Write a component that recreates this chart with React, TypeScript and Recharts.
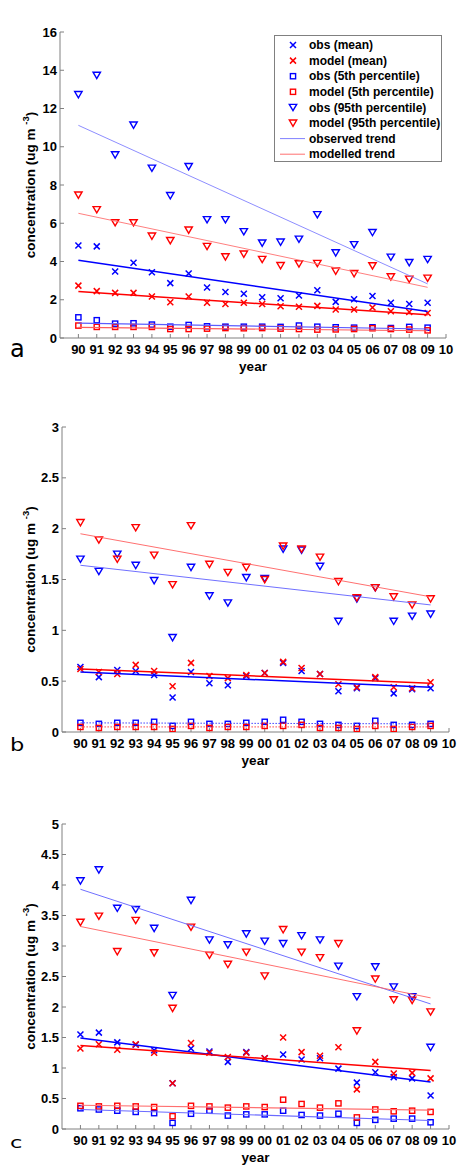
import React from 'react';
import { ScatterChart, Scatter, XAxis, YAxis, Legend } from 'recharts';

// ---------- shared categories ----------
const years = [1990, 1991, 1992, 1993, 1994, 1995, 1996, 1997, 1998, 1999, 2000, 2001, 2002, 2003, 2004, 2005, 2006, 2007, 2008, 2009];
const xTicks = [1990, 1991, 1992, 1993, 1994, 1995, 1996, 1997, 1998, 1999, 2000, 2001, 2002, 2003, 2004, 2005, 2006, 2007, 2008, 2009, 2010];
const trendYears = [1990, 2009];
const legendNames = ['obs (mean)', 'model (mean)', 'obs (5th percentile)', 'model (5th percentile)', 'obs (95th percentile)', 'model (95th percentile)', 'observed trend', 'modelled trend'];

// ---------- SO4 ----------
const so4Ticks = [0, 2, 4, 6, 8, 10, 12, 14, 16];
const so4ObsMean = [4.84, 4.79, 3.48, 3.93, 3.44, 2.87, 3.37, 2.64, 2.41, 2.31, 2.13, 2.08, 2.22, 2.5, 1.89, 2.03, 2.2, 1.84, 1.78, 1.84];
const so4ModelMean = [2.74, 2.45, 2.36, 2.36, 2.17, 1.87, 2.17, 1.84, 1.78, 1.84, 1.78, 1.66, 1.63, 1.68, 1.49, 1.49, 1.59, 1.4, 1.36, 1.31];
const so4Obs5 = [1.08, 0.93, 0.75, 0.77, 0.7, 0.59, 0.68, 0.61, 0.59, 0.59, 0.59, 0.58, 0.65, 0.59, 0.56, 0.54, 0.56, 0.52, 0.58, 0.54];
const so4Model5 = [0.65, 0.58, 0.58, 0.58, 0.58, 0.47, 0.47, 0.49, 0.52, 0.51, 0.52, 0.49, 0.47, 0.44, 0.45, 0.47, 0.51, 0.47, 0.44, 0.4];
const so4Obs95 = [12.73, 13.74, 9.58, 11.14, 8.88, 7.45, 8.97, 6.19, 6.19, 5.56, 4.97, 5.02, 5.17, 6.45, 4.46, 4.88, 5.52, 4.23, 3.95, 4.11];
const so4Model95 = [7.48, 6.71, 6.03, 6.03, 5.33, 5.1, 5.65, 4.79, 4.25, 4.39, 4.11, 3.79, 3.88, 3.9, 3.5, 3.37, 3.78, 3.2, 3.08, 3.13];
const so4ObsMeanTrend = [4.07, 1.38];
const so4ModelMeanTrend = [2.43, 1.21];
const so4Obs5Trend = [0.78, 0.47];
const so4Model5Trend = [0.56, 0.38];
const so4Obs95Trend = [11.12, 2.83];
const so4Model95Trend = [6.52, 2.65];

// ---------- TNO3 ----------
const tno3Ticks = [0, 0.5, 1, 1.5, 2, 2.5, 3];
const tno3ObsMean = [0.64, 0.54, 0.61, 0.6, 0.56, 0.34, 0.59, 0.48, 0.46, 0.55, 0.58, 0.68, 0.6, 0.57, 0.4, 0.43, 0.53, 0.38, 0.42, 0.43];
const tno3ModelMean = [0.62, 0.59, 0.57, 0.66, 0.6, 0.45, 0.68, 0.55, 0.53, 0.56, 0.58, 0.69, 0.63, 0.57, 0.47, 0.44, 0.54, 0.44, 0.43, 0.49];
const tno3Obs5 = [0.09, 0.08, 0.09, 0.09, 0.1, 0.06, 0.1, 0.08, 0.08, 0.09, 0.1, 0.12, 0.1, 0.08, 0.07, 0.06, 0.11, 0.07, 0.07, 0.08];
const tno3Model5 = [0.05, 0.04, 0.05, 0.05, 0.05, 0.03, 0.06, 0.04, 0.05, 0.05, 0.06, 0.06, 0.07, 0.04, 0.04, 0.03, 0.06, 0.03, 0.05, 0.06];
const tno3Obs95 = [1.7, 1.58, 1.75, 1.64, 1.49, 0.93, 1.62, 1.34, 1.27, 1.52, 1.51, 1.8, 1.79, 1.63, 1.09, 1.31, 1.42, 1.09, 1.14, 1.16];
const tno3Model95 = [2.06, 1.89, 1.7, 2.01, 1.74, 1.45, 2.03, 1.65, 1.57, 1.62, 1.5, 1.83, 1.8, 1.72, 1.48, 1.32, 1.42, 1.33, 1.25, 1.31];
const tno3ObsMeanTrend = [0.59, 0.44];
const tno3ModelMeanTrend = [0.62, 0.48];
const tno3Obs5Trend = [0.09, 0.08];
const tno3Model5Trend = [0.05, 0.05];
const tno3Obs95Trend = [1.64, 1.25];
const tno3Model95Trend = [1.95, 1.33];

// ---------- TNH4 ----------
const tnh4Ticks = [0, 0.5, 1, 1.5, 2, 2.5, 3, 3.5, 4, 4.5, 5];
const tnh4ObsMean = [1.55, 1.58, 1.42, 1.38, 1.29, 0.75, 1.32, 1.27, 1.1, 1.26, 1.16, 1.22, 1.14, 1.16, 0.99, 0.76, 0.93, 0.85, 0.83, 0.55];
const tnh4ModelMean = [1.32, 1.39, 1.3, 1.39, 1.25, 0.75, 1.41, 1.25, 1.18, 1.25, 1.16, 1.5, 1.26, 1.2, 1.34, 0.65, 1.1, 0.91, 0.92, 0.83];
const tnh4Obs5 = [0.34, 0.32, 0.3, 0.28, 0.26, 0.1, 0.25, 0.3, 0.22, 0.24, 0.24, 0.3, 0.23, 0.22, 0.25, 0.1, 0.15, 0.17, 0.17, 0.11];
const tnh4Model5 = [0.38, 0.37, 0.38, 0.37, 0.36, 0.21, 0.38, 0.37, 0.35, 0.37, 0.36, 0.48, 0.41, 0.35, 0.42, 0.19, 0.32, 0.29, 0.3, 0.28];
const tnh4Obs95 = [4.07, 4.25, 3.62, 3.6, 3.29, 2.19, 3.75, 3.1, 3.02, 3.2, 3.08, 3.04, 3.17, 3.1, 2.67, 2.17, 2.66, 2.33, 2.17, 1.34];
const tnh4Model95 = [3.39, 3.49, 2.91, 3.42, 2.89, 1.98, 3.31, 2.85, 2.7, 2.9, 2.51, 3.27, 2.9, 2.81, 3.04, 1.61, 2.46, 2.12, 2.11, 1.92];
const tnh4ObsMeanTrend = [1.49, 0.77];
const tnh4ModelMeanTrend = [1.37, 0.96];
const tnh4Obs5Trend = [0.32, 0.14];
const tnh4Model5Trend = [0.39, 0.31];
const tnh4Obs95Trend = [3.93, 2.05];
const tnh4Model95Trend = [3.32, 2.15];

// ---------- styles ----------
const BLUE = '#0000ff';
const RED = '#ff0000';
const AXIS = '#808080';
const FONT = '"Liberation Sans", Arial, Helvetica, sans-serif';
const W = 459;

type Marker = 'x' | 'sq' | 'tri';

const markerEl = (kind: Marker, color: string, cx: number, cy: number, key?: string) => {
  if (kind === 'x') {
    return (
      <path key={key} d={`M${cx - 3},${cy - 3}L${cx + 3},${cy + 3}M${cx - 3},${cy + 3}L${cx + 3},${cy - 3}`} stroke={color} strokeWidth={1.5} fill="none" />
    );
  }
  if (kind === 'sq') {
    return <rect key={key} x={cx - 2.6} y={cy - 2.6} width={5.2} height={5.2} stroke={color} strokeWidth={1.4} fill="none" />;
  }
  return (
    <path key={key} d={`M${cx - 3.7},${cy - 3}L${cx + 3.7},${cy - 3}L${cx},${cy + 3.3}Z`} stroke={color} strokeWidth={1.4} fill="none" strokeLinejoin="miter" />
  );
};

const shapeFor = (kind: Marker, color: string) => (p: any) => markerEl(kind, color, p.cx, p.cy);
const noShape = () => <g />;

const pts = (vals: number[]) => vals.map((v, i) => ({ x: years[i], y: v }));
const tpts = (vals: number[]) => vals.map((v, i) => ({ x: trendYears[i], y: v }));
const fmtYear = (v: number) => String(v % 100).padStart(2, '0');

interface Series { values: number[]; color: string; marker: Marker }
interface Trend { values: number[]; stroke: string; width: number; dash?: string }
interface Panel {
  title: string; letter: string; letterSize: number; letterScale: number;
  top: number; height: number; plotLeft: number; plotRight: number; plotTop: number; plotBottom: number;
  yTicks: number[]; series: Series[]; trends: Trend[]; legend: boolean;
}

const mkSeries = (om: number[], mm: number[], o5: number[], m5: number[], o95: number[], m95: number[]): Series[] => [
  { values: om, color: BLUE, marker: 'x' },
  { values: mm, color: RED, marker: 'x' },
  { values: o5, color: BLUE, marker: 'sq' },
  { values: m5, color: RED, marker: 'sq' },
  { values: o95, color: BLUE, marker: 'tri' },
  { values: m95, color: RED, marker: 'tri' },
];

const panels: Panel[] = [
  {
    title: 'SO4', letter: 'a', letterSize: 24, letterScale: 1,
    top: 0, height: 385, plotLeft: 60, plotRight: 446, plotTop: 32, plotBottom: 338,
    yTicks: so4Ticks, legend: true,
    series: mkSeries(so4ObsMean, so4ModelMean, so4Obs5, so4Model5, so4Obs95, so4Model95),
    trends: [
      { values: so4Obs5Trend, stroke: '#5c5cff', width: 1.2 },
      { values: so4Model5Trend, stroke: '#ff5c5c', width: 1.2 },
      { values: so4ObsMeanTrend, stroke: BLUE, width: 1.5 },
      { values: so4ModelMeanTrend, stroke: RED, width: 1.5 },
      { values: so4Obs95Trend, stroke: '#8080ff', width: 0.9 },
      { values: so4Model95Trend, stroke: '#ff7070', width: 0.9 },
    ],
  },
  {
    title: 'TNO3', letter: 'b', letterSize: 18, letterScale: 1.25,
    top: 385, height: 390, plotLeft: 62, plotRight: 449, plotTop: 427, plotBottom: 732,
    yTicks: tno3Ticks, legend: false,
    series: mkSeries(tno3ObsMean, tno3ModelMean, tno3Obs5, tno3Model5, tno3Obs95, tno3Model95),
    trends: [
      { values: tno3Obs5Trend, stroke: '#4040ff', width: 1, dash: '1.5 1.5' },
      { values: tno3Model5Trend, stroke: '#ff4040', width: 1, dash: '1.5 1.5' },
      { values: tno3ObsMeanTrend, stroke: BLUE, width: 1.5 },
      { values: tno3ModelMeanTrend, stroke: RED, width: 1.5 },
      { values: tno3Obs95Trend, stroke: '#6060ff', width: 0.9 },
      { values: tno3Model95Trend, stroke: '#ff6060', width: 0.9 },
    ],
  },
  {
    title: 'TNH4', letter: 'c', letterSize: 15.5, letterScale: 1.45,
    top: 780, height: 385, plotLeft: 62, plotRight: 449, plotTop: 824, plotBottom: 1129,
    yTicks: tnh4Ticks, legend: false,
    series: mkSeries(tnh4ObsMean, tnh4ModelMean, tnh4Obs5, tnh4Model5, tnh4Obs95, tnh4Model95),
    trends: [
      { values: tnh4Obs5Trend, stroke: '#6a6aff', width: 1.1 },
      { values: tnh4Model5Trend, stroke: '#ff7070', width: 1.1 },
      { values: tnh4ObsMeanTrend, stroke: BLUE, width: 1.5 },
      { values: tnh4ModelMeanTrend, stroke: RED, width: 1.5 },
      { values: tnh4Obs95Trend, stroke: '#6060ff', width: 0.9 },
      { values: tnh4Model95Trend, stroke: '#ff6060', width: 0.9 },
    ],
  },
];

const legendMarkers: { kind: Marker | 'line'; color: string }[] = [
  { kind: 'x', color: BLUE },
  { kind: 'x', color: RED },
  { kind: 'sq', color: BLUE },
  { kind: 'sq', color: RED },
  { kind: 'tri', color: BLUE },
  { kind: 'tri', color: RED },
  { kind: 'line', color: '#8080ff' },
  { kind: 'line', color: '#ff7070' },
];

const LegendBox = () => {
  const rowH = 15.6;
  const w = 168;
  const h = 127;
  return (
    <svg width={w} height={h} style={{ display: 'block', background: '#fff' }}>
      <rect x={0.5} y={0.5} width={w - 1} height={h - 1} fill="#fff" stroke={AXIS} strokeWidth={1} />
      {legendNames.map((name, i) => {
        const cy = 10 + i * rowH;
        const m = legendMarkers[i];
        return (
          <g key={name}>
            {m.kind === 'line'
              ? <line x1={6} x2={31} y1={cy} y2={cy} stroke={m.color} strokeWidth={1} />
              : markerEl(m.kind, m.color, 19, cy)}
            <text x={35} y={cy + 4.2} fontFamily={FONT} fontWeight="bold" fontSize={12} fill="#000">{name}</text>
          </g>
        );
      })}
    </svg>
  );
};

const ChartPanel = ({ p }: { p: Panel }) => {
  const xAxisH = 30;
  const localBottom = p.plotBottom - p.top;
  const margin = { top: p.plotTop - p.top, right: W - p.plotRight, bottom: p.height - localBottom - xAxisH, left: 0 };
  const yMax = p.yTicks[p.yTicks.length - 1];
  const cx = (p.plotLeft + p.plotRight) / 2;
  const cyPlot = (p.plotTop + p.plotBottom) / 2 - p.top;
  const tickStyle = { fill: '#000', fontSize: 13, fontWeight: 'bold', fontFamily: FONT };

  const bottomLabel = () => (
    <g>
      <text x={cx} y={localBottom + 33} textAnchor="middle" fontFamily={FONT} fontWeight="bold" fontSize={13.5} fill="#000">year</text>
      <text transform={`translate(10, ${localBottom + 19}) scale(${p.letterScale}, 1)`} fontFamily='"DejaVu Sans", sans-serif' fontSize={p.letterSize} fill="#000">{p.letter}</text>
    </g>
  );
  const topLabel = () => (
    <text x={cx} y={p.plotTop - p.top - 11} textAnchor="middle" fontFamily={FONT} fontWeight="bold" fontSize={15} fill="#000">{p.title}</text>
  );
  const yLabel = () => (
    <text transform={`rotate(-90, 35, ${cyPlot})`} x={35} y={cyPlot} textAnchor="middle" fontFamily={FONT} fontWeight="bold" fontSize={13.5} fill="#000">
      concentration (ug m <tspan dy={-6} fontSize={9.5}>-3</tspan><tspan dy={6}>)</tspan>
    </text>
  );

  return (
    <div style={{ position: 'absolute', left: 0, top: p.top, width: W, height: p.height }}>
      <ScatterChart width={W} height={p.height} margin={margin}>
        <XAxis xAxisId="b" type="number" dataKey="x" domain={[1989, 2010]} ticks={xTicks} interval={0}
          tickFormatter={fmtYear} height={xAxisH} tickSize={-4} tickMargin={11} stroke={AXIS} tick={tickStyle}
          allowDataOverflow label={bottomLabel} />
        <XAxis xAxisId="t" orientation="top" type="number" dataKey="x" domain={[1989, 2010]} ticks={xTicks} interval={0}
          height={0} tickSize={-4} tick={false} stroke={AXIS} allowDataOverflow label={topLabel} />
        <YAxis yAxisId="l" type="number" dataKey="y" domain={[0, yMax]} ticks={p.yTicks} interval={0}
          width={p.plotLeft} tickSize={-4} tickMargin={7} stroke={AXIS} tick={tickStyle} allowDataOverflow label={yLabel} />
        <YAxis yAxisId="r" orientation="right" type="number" dataKey="y" domain={[0, yMax]} ticks={p.yTicks} interval={0}
          width={0} tickSize={-4} tick={false} stroke={AXIS} allowDataOverflow />
        {p.series.map((s, i) => (
          <Scatter key={`s${i}`} xAxisId="b" yAxisId="l" data={pts(s.values)} dataKey="y" fill={s.color}
            shape={shapeFor(s.marker, s.color)} isAnimationActive={false} legendType="none" />
        ))}
        {p.trends.map((t, i) => (
          <Scatter key={`t${i}`} xAxisId="b" yAxisId="l" data={tpts(t.values)} dataKey="y" fill={t.stroke}
            line={{ stroke: t.stroke, strokeWidth: t.width, strokeDasharray: t.dash }} shape={noShape}
            isAnimationActive={false} legendType="none" />
        ))}
        {p.legend && (
          <Legend layout="vertical" align="center" verticalAlign="middle"
            wrapperStyle={{ left: 274, top: 35, width: 168, height: 127 }}
            content={() => <LegendBox />} />
        )}
      </ScatterChart>
    </div>
  );
};

export default function App() {
  return (
    <div style={{ position: 'absolute', left: 0, top: 0, width: W, height: 1165, background: '#fff', overflow: 'hidden' }}>
      {panels.map((p) => <ChartPanel key={p.title} p={p} />)}
    </div>
  );
}
